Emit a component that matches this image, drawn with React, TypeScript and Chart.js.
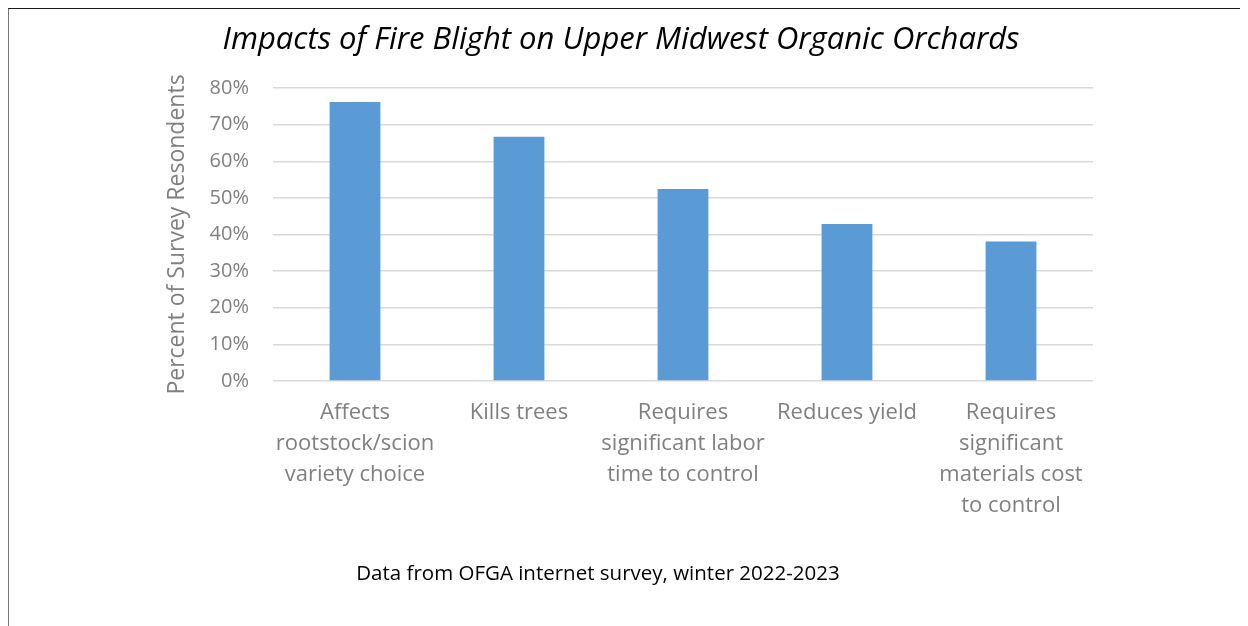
import React, { useEffect, useRef } from "react";
import { Chart, registerables } from "chart.js";

Chart.register(...registerables);

const categories: string[][] = [
  ["Affects", "rootstock/scion", "variety choice"],
  ["Kills trees"],
  ["Requires", "significant labor", "time to control"],
  ["Reduces yield"],
  ["Requires", "significant", "materials cost", "to control"],
];
const percentRespondents: number[] = [76.2, 66.7, 52.4, 42.9, 38.1];
const yTickValues: number[] = [0, 10, 20, 30, 40, 50, 60, 70, 80];

const chartTitle = "Impacts of Fire Blight on Upper Midwest Organic Orchards";
const yAxisTitle = "Percent of Survey Resondents";
const footnote = "Data from OFGA internet survey, winter 2022-2023";

const FONT = "'Open Sans', 'DejaVu Sans', sans-serif";

export default function App() {
  const canvasRef = useRef<HTMLCanvasElement | null>(null);

  useEffect(() => {
    if (!canvasRef.current) return;
    const chart = new Chart(canvasRef.current, {
      type: "bar",
      data: {
        labels: categories,
        datasets: [
          {
            data: percentRespondents,
            backgroundColor: "#5B9BD5",
            borderWidth: 0,
            categoryPercentage: 1,
            barPercentage: 0.31,
          },
        ],
      },
      options: {
        animation: false,
        responsive: true,
        maintainAspectRatio: false,
        layout: { padding: { left: 140, right: 154, top: 0, bottom: 95 } },
        plugins: {
          legend: { display: false },
          tooltip: { enabled: false },
          title: {
            display: true,
            text: chartTitle,
            color: "#000000",
            font: { family: FONT, size: 31, style: "italic", weight: "normal", lineHeight: 1.2 },
            padding: { top: 13, bottom: 28.8 },
          },
        },
        scales: {
          x: {
            grid: { display: false, drawTicks: false },
            border: { display: false },
            ticks: {
              color: "#808080",
              font: { family: FONT, size: 22, lineHeight: 1.41 },
              padding: 16,
              maxRotation: 0,
              autoSkip: false,
            },
            afterFit: (scale: any) => {
              scale.height = 150;
            },
          },
          y: {
            min: 0,
            max: 80,
            afterBuildTicks: (scale: any) => {
              scale.ticks = yTickValues.map((v) => ({ value: v }));
            },
            grid: { color: "#d9d9d9", lineWidth: 1.5, drawTicks: false },
            border: { display: false },
            ticks: {
              color: "#808080",
              font: { family: FONT, size: 20 },
              padding: 24,
              callback: (v: any) => `${v}%`,
            },
            title: {
              display: true,
              text: yAxisTitle,
              color: "#808080",
              font: { family: FONT, size: 23, lineHeight: 1.2 },
              padding: { top: 15, bottom: 0 },
            },
            afterFit: (scale: any) => {
              scale.width = 124;
            },
          },
        },
      },
    });
    return () => chart.destroy();
  }, []);

  return (
    <div
      style={{
        position: "relative",
        width: 1240,
        height: 618,
        marginLeft: -1,
        borderTop: "1px solid #1a1a1a",
        borderLeft: "2px solid #777777",
        boxSizing: "border-box",
      }}
    >
      <div style={{ position: "absolute", left: 0, top: 0, width: 1238, height: 617 }}>
        <canvas ref={canvasRef} />
      </div>
      <div
        style={{
          position: "absolute",
          left: 0,
          width: 1178,
          top: 551,
          lineHeight: "24px",
          textAlign: "center",
          fontFamily: FONT,
          fontSize: 20.5,
          color: "#000000",
          whiteSpace: "nowrap",
        }}
      >
        {footnote}
      </div>
    </div>
  );
}
